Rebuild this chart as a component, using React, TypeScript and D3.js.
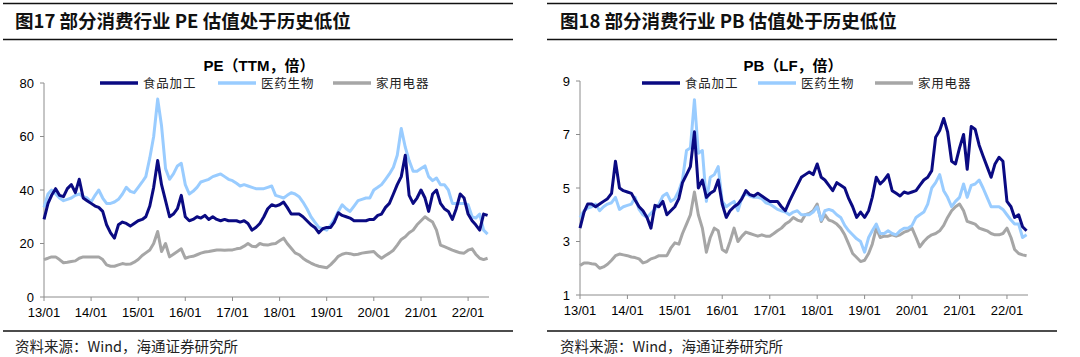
import React from 'react';
import * as d3 from 'd3';

// ---------- data (monthly, 2013/01 .. 2022/06) ----------
const xTickLabels = ['13/01', '14/01', '15/01', '16/01', '17/01', '18/01', '19/01', '20/01', '21/01', '22/01'];
const seriesNames = ['食品加工', '医药生物', '家用电器'];
const seriesColors = ['#0A0A82', '#99CCFF', '#A6A6A6'];

const peYTicks = [0, 20, 40, 60, 80];
const pbYTicks = [1, 3, 5, 7, 9];

const peFood = [
  29, 35, 38, 40.5, 38, 37.5, 40.5, 42, 39, 44, 37, 36,
  35, 34, 33.5, 32, 27, 24, 22, 27, 28, 27.5, 26.5, 27.5,
  28.5, 29, 30, 34, 41, 51, 42, 36, 30, 31, 33, 38,
  30, 28.5, 29, 30, 29.5, 30.5, 29, 30, 29, 28.5, 29, 28.5,
  28.5, 28.5, 28, 28.5, 27.5, 25, 26, 27.5, 30, 33, 34.5, 34,
  34.5, 35.5, 33.5, 31, 31, 31, 30, 28.5, 27, 26, 24, 25.5,
  26, 26, 28, 31.5, 30.5, 30, 29.5, 28.5, 28.5, 28.5, 28.5, 29,
  29, 30.5, 31, 33.5, 35, 38.5, 42, 45, 53, 38, 35, 37,
  40, 37, 32, 38.5, 40, 35, 33, 32, 29, 33, 38.5, 37,
  31, 28.5, 27, 25, 31, 30.5,
];
const pePharma = [
  33.5, 38.5, 40, 38.5, 37, 36, 36.5, 37, 38, 38.5, 37.5, 37,
  35.5, 38, 40, 37, 35, 35, 35.5, 36.5, 38.5, 41, 39.5, 39,
  41, 43, 45, 52, 60, 74, 64, 48, 44, 46, 49, 50,
  42, 38.5, 39.5, 41, 43, 43.5, 44, 45, 45.5, 46, 45, 44,
  43.5, 42.5, 41.5, 42, 41.5, 41, 40.5, 40.5, 40.5, 41, 41.5, 38,
  37.5, 37, 38, 39, 38.5, 37.5, 35.5, 33, 30, 28, 26, 25.5,
  25, 27, 29, 32, 34.5, 33, 32, 34, 36, 36.5, 37, 37,
  40, 41, 42, 44, 46, 48.5, 53, 63, 56, 51, 47, 47,
  48, 49, 45, 43.5, 44.5, 42, 42, 40, 35, 35, 35, 35,
  34.5, 30, 29.5, 31, 25, 23.5,
];
const peAppliance = [
  14, 14.5, 15, 15, 14, 12.8, 13, 13.3, 13.5, 14.5, 15, 15,
  15, 15, 15, 14, 12, 11.5, 11.5, 12, 12.5, 12.2, 12.3, 13,
  14, 15.5, 16.5, 17.6, 20, 24.5, 17, 20, 15, 16, 17, 18,
  14.5, 15, 15.2, 15.8, 16.4, 16.8, 17, 17.3, 17.6, 17.6, 17.5, 17.6,
  17.6, 18, 18.2, 19, 20, 19, 18.8, 20, 19.5, 19.4, 19.8, 20,
  21, 22, 20, 18.2, 16.5, 15.8, 14.5, 13.5, 12.7, 12, 11.5, 11.2,
  10.9, 12.1, 13.5, 15.2, 16, 16.4, 16.2, 15.8, 16, 16.4, 16.6, 16.8,
  17, 15.5, 14.5, 15.5, 16.4, 17.5, 19.4, 21.5, 22.5, 24, 25, 27,
  28.5, 30, 29, 28, 25, 19.4, 18.8, 18.2, 17.5, 17, 16.5, 16.4,
  17.5, 18, 16, 14.5, 14, 14.5,
];

const pbFood = [
  3.5, 4.1, 4.4, 4.4, 4.3, 4.4, 4.5, 4.6, 4.8, 6.0, 5.0, 4.9,
  4.85, 4.8, 4.55, 4.3, 4.15, 3.9, 3.5, 4.35, 4.3, 4.5, 4.0, 4.15,
  4.3, 4.6, 5.2, 5.5, 5.8, 7.1, 5.0, 5.3, 4.65, 4.8, 4.9, 5.3,
  4.4, 3.9, 4.15, 4.3, 4.4, 4.6, 4.9, 4.75, 4.7, 4.8, 4.7, 4.6,
  4.5, 4.5, 4.5, 4.3, 4.15, 4.5, 4.8, 5.1, 5.4, 5.5, 5.6, 5.5,
  5.9, 5.4, 5.3, 5.1, 4.9, 5.2, 5.1, 5.0, 4.6, 4.3, 3.9, 4.1,
  3.9, 4.15, 4.65, 5.4, 5.15, 5.3, 5.5, 4.9, 4.8, 4.7, 4.85, 4.8,
  4.85, 4.9, 5.1, 5.3, 5.4, 5.65, 6.9, 7.15, 7.6, 7.1, 6.0, 5.9,
  6.5, 7.0, 5.7, 7.3, 7.2, 6.6, 6.2, 5.8, 5.4, 5.9, 6.15, 6.0,
  4.5, 4.3, 3.9, 4.0, 3.55, 3.4,
];
const pbPharma = [
  3.9, 4.15, 4.25, 4.3, 4.4, 4.15, 4.3, 4.4, 4.45, 4.65, 4.2, 4.3,
  4.35, 4.4, 4.65, 4.2, 4.0, 3.9, 4.05, 4.2, 4.4, 4.7, 4.8, 4.5,
  4.6, 4.9, 5.3, 6.4, 6.5, 8.3, 6.3, 6.4, 4.5, 5.4, 5.5, 5.8,
  4.5, 4.3, 4.4, 4.5, 4.15, 4.65, 4.8, 4.7, 4.65, 4.65, 4.6, 4.45,
  4.4, 4.3, 4.2, 4.15, 4.1, 4.0, 4.1, 4.15, 4.0, 4.0, 4.0, 4.1,
  4.3, 3.8, 4.15, 4.2, 4.15, 4.0, 3.9, 3.6, 3.4, 3.25, 3.1, 3.0,
  2.6, 3.15, 3.4, 3.65, 3.3, 3.3, 3.4, 3.3, 3.25, 3.4, 3.5, 3.5,
  3.6, 3.9, 4.0, 4.1, 4.4, 5.0, 5.2, 5.5, 4.9, 4.65, 4.3, 4.5,
  4.65, 5.15, 4.65, 5.1, 5.15, 5.3, 5.0, 4.65, 4.3, 4.3, 4.3, 4.2,
  4.0, 3.8, 3.65, 3.65, 3.15, 3.25,
];
const pbAppliance = [
  2.1, 2.2, 2.2, 2.17, 2.15, 2.0, 2.05, 2.15, 2.3, 2.47, 2.53, 2.5,
  2.47, 2.42, 2.4, 2.35, 2.2, 2.25, 2.35, 2.4, 2.47, 2.47, 2.47, 2.75,
  2.95, 2.9, 3.3, 3.65, 4.0, 4.85, 4.0, 3.5, 2.6, 3.15, 3.5, 3.4,
  2.7, 2.6, 3.0, 3.5, 3.0, 3.2, 3.35, 3.3, 3.25, 3.2, 3.25, 3.2,
  3.2, 3.3, 3.4, 3.5, 3.65, 3.75, 3.9, 3.8, 3.75, 4.0, 4.05, 4.15,
  4.4, 3.75, 4.0, 3.8, 3.75, 3.65, 3.5, 3.25, 2.9, 2.55, 2.4, 2.25,
  2.3, 2.55, 2.9, 3.5, 3.15, 3.2, 3.2, 3.25, 3.2, 3.25, 3.35, 3.4,
  3.5, 3.15, 2.8, 3.0, 3.15, 3.25, 3.3, 3.4, 3.6, 3.9, 4.15, 4.3,
  4.4, 4.15, 3.75, 3.7, 3.65, 3.5, 3.45, 3.4, 3.3, 3.25, 3.25, 3.3,
  3.5, 3.15, 2.7, 2.55, 2.5, 2.47,
];

const months = d3.range(peFood.length).map((i) => new Date(2013, i, 1));
const tickDates = xTickLabels.map((_, i) => new Date(2013 + i, 0, 1));

const LATIN = '"Liberation Sans", Arial, "Noto Sans CJK SC", sans-serif';
const CJK = '"Noto Sans CJK SC", "Liberation Sans", sans-serif';

type PanelProps = {
  left: number;
  right: number;
  title: string;
  chartTitle: string;
  chartTitleX: number;
  axisX0: number;
  axisX1: number;
  yTop: number;
  yBottom: number;
  yTicks: number[];
  legendX: number[];
  series: number[][];
  footerX: number;
  titleX: number;
};

function Panel(p: PanelProps) {
  const x = d3
    .scaleTime()
    .domain([new Date(2013, 0, 1), new Date(2022, 5, 12)])
    .range([p.axisX0, p.axisX1]);
  const y = d3
    .scaleLinear()
    .domain([p.yTicks[0], p.yTicks[p.yTicks.length - 1]])
    .range([p.yBottom, p.yTop]);
  const line = d3
    .line<number>()
    .x((_, i) => x(months[i]))
    .y((d) => y(d));
  const axisColor = '#8C8C8C';
  const order = [2, 1, 0];
  return (
    <g>
      {/* header rules + title */}
      <line x1={p.left} x2={p.right} y1={3.5} y2={3.5} stroke="#111" strokeWidth={1.5} />
      <text x={p.titleX} y={28} fontFamily={CJK} fontWeight={700} fontSize={18.5} fill="#111">
        {p.title}
      </text>
      <line x1={p.left} x2={p.right} y1={39.5} y2={39.5} stroke="#111" strokeWidth={1.5} />
      <text x={p.chartTitleX} y={71} textAnchor="middle" fontFamily={LATIN} fontWeight={700} fontSize={15} fill="#000">
        {p.chartTitle}
      </text>

      {/* legend */}
      {seriesNames.map((name, i) => (
        <g key={name}>
          <line
            x1={p.legendX[i]}
            x2={p.legendX[i] + 38}
            y1={83}
            y2={83}
            stroke={seriesColors[i]}
            strokeWidth={3.5}
          />
          <text x={p.legendX[i] + 43} y={87.5} fontFamily={CJK} fontSize={12.5} letterSpacing={0.8} fill="#222">
            {name}
          </text>
        </g>
      ))}

      {/* axes */}
      <line x1={p.axisX0} x2={p.axisX0} y1={p.yTop} y2={p.yBottom} stroke={axisColor} strokeWidth={1} />
      <line x1={p.axisX0} x2={p.axisX1} y1={p.yBottom} y2={p.yBottom} stroke={axisColor} strokeWidth={1} />
      {p.yTicks.map((t) => (
        <g key={t}>
          <line x1={p.axisX0 - 4} x2={p.axisX0} y1={y(t)} y2={y(t)} stroke={axisColor} />
          <text
            x={p.axisX0 - 10}
            y={y(t) + 4.5}
            textAnchor="end"
            fontFamily={LATIN}
            fontSize={13}
            fill="#000"
          >
            {t}
          </text>
        </g>
      ))}
      {tickDates.map((d, i) => (
        <g key={i}>
          <line x1={x(d)} x2={x(d)} y1={p.yBottom} y2={p.yBottom + 4} stroke={axisColor} />
          <text x={x(d)} y={p.yBottom + 20} textAnchor="middle" fontFamily={LATIN} fontSize={13} fill="#000">
            {xTickLabels[i]}
          </text>
        </g>
      ))}

      {/* series */}
      {order.map((si) => (
        <path
          key={si}
          d={line(p.series[si]) || ''}
          fill="none"
          stroke={seriesColors[si]}
          strokeWidth={3}
          strokeLinejoin="round"
        />
      ))}

      {/* footer */}
      <line x1={p.left} x2={p.right} y1={331} y2={331} stroke="#111" strokeWidth={1.5} />
      <text x={p.footerX} y={352} fontFamily={CJK} fontSize={14.5} fill="#222">
        资料来源：Wind，海通证券研究所
      </text>
    </g>
  );
}

export default function App() {
  return (
    <svg
      width={1080}
      height={357}
      style={{ position: 'absolute', left: 0, top: 0, background: '#fff' }}
    >
      <rect x={0} y={0} width={1080} height={357} fill="#fff" />
      <Panel
        left={3}
        right={513}
        titleX={15}
        title="图17 部分消费行业 PE 估值处于历史低位"
        chartTitle="PE（TTM，倍）"
        chartTitleX={259}
        axisX0={44}
        axisX1={489}
        yTop={83}
        yBottom={297}
        yTicks={peYTicks}
        legendX={[100, 218, 333]}
        series={[peFood, pePharma, peAppliance]}
        footerX={15}
      />
      <Panel
        left={547}
        right={1057}
        titleX={560}
        title="图18 部分消费行业 PB 估值处于历史低位"
        chartTitle="PB（LF，倍）"
        chartTitleX={793}
        axisX0={580}
        axisX1={1028}
        yTop={81}
        yBottom={295}
        yTicks={pbYTicks}
        legendX={[642, 758, 875]}
        series={[pbFood, pbPharma, pbAppliance]}
        footerX={560}
      />
    </svg>
  );
}
